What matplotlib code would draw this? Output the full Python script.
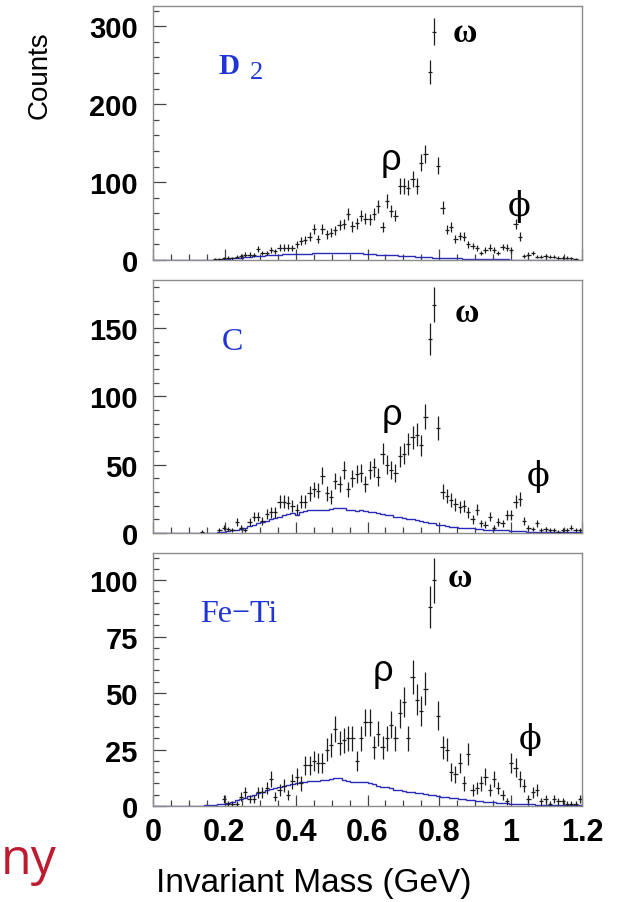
import numpy as np
import matplotlib
matplotlib.use("Agg")
import matplotlib.pyplot as plt
from matplotlib.ticker import MultipleLocator, FixedLocator, FixedFormatter

# ---------------- data (100 bins, 0 - 1.2 GeV) ----------------
x_min, x_max, n_bins = 0.0, 1.2, 100

d2_counts = [0, 0, 0, 0, 0, 0, 0, 0, 0, 0,
             0, 0, 0, 0, 1, 1, 2, 3, 2, 4,
             5, 7, 7, 6, 14, 9, 9, 13, 11, 16,
             16, 16, 15, 20, 24, 26, 30, 40, 27, 40,
             33, 35, 38, 45, 46, 59, 43, 47, 57, 53,
             52, 59, 69, 42, 76, 63, 57, 95, 95, 93,
             104, 95, 125, 136, 241, 293, 121, 67, 39, 42,
             27, 31, 30, 20, 18, 15, 9, 13, 16, 13,
             9, 17, 16, 13, 46, 30, 5, 7, 9, 4,
             4, 5, 4, 4, 3, 3, 3, 2, 1, 0]
d2_bg = [0, 0, 0, 0, 0, 0, 0, 0, 0, 0,
         0, 0, 0, 0, 0, 0.5, 1, 1.5, 2, 2.5,
         3, 3.5, 4, 4.5, 5, 5.5, 6, 6.5, 7, 7,
         7.5, 7.5, 7.5, 7.5, 7.5, 7.5, 8, 8.5, 8.5, 8.5,
         9, 9, 9, 9, 9.5, 9.5, 9, 8.5, 8.5, 8,
         8, 7.5, 7, 7, 6.5, 6, 6, 5.5, 5, 5,
         4.5, 4, 4, 3.5, 3.5, 3, 3, 2.5, 2.5, 2,
         2, 2, 1.5, 1.5, 1.5, 1, 1, 1, 1, 1,
         0.8, 0.8, 0.7, 0.6, 0.5, 0.5, 0.4, 0.3, 0.3, 0.2,
         0.2, 0.2, 0.1, 0.1, 0.1, 0.1, 0, 0, 0, 0]

c_counts = [0, 0, 0, 0, 0, 0, 0, 0, 0, 0,
            0, 1, 0, 0, 0, 2, 4, 3, 2, 8,
            4, 2, 8, 12, 12, 9, 14, 15, 15, 23,
            23, 22, 20, 17, 23, 23, 29, 32, 31, 42,
            29, 26, 38, 36, 46, 32, 40, 43, 44, 36,
            46, 48, 41, 58, 50, 46, 44, 56, 58, 65,
            70, 72, 64, 85, 142, 167, 77, 30, 27, 24,
            21, 19, 20, 15, 10, 17, 7, 6, 12, 4,
            8, 7, 13, 13, 23, 25, 9, 4, 3, 7,
            2, 3, 2, 2, 1, 2, 2, 4, 2, 2]
c_bg = [0, 0, 0, 0, 0, 0, 0, 0, 0, 0,
        0, 0, 0, 0, 0.3, 0.6, 1, 1.5, 2, 2.4,
        3, 4, 5, 6, 7, 8, 9, 10, 11, 12,
        13, 14, 14.5, 13.5, 15, 16, 16.5, 16.5, 16.5, 17,
        17, 17.5, 18.5, 18.5, 18, 17, 16.5, 16, 16.5, 16,
        15.5, 15, 14.5, 14, 13, 13, 12, 11.5, 11, 10.5,
        10, 9.5, 8.5, 8, 7.5, 7, 6, 5.5, 5, 4.5,
        4.5, 4, 4, 3.5, 3.5, 3, 3, 2.5, 2.5, 2.5,
        2, 2, 2, 1.5, 1.5, 1.5, 1.5, 1, 1, 1,
        1, 1, 0.8, 0.8, 0.7, 0.7, 0.6, 0.6, 0.5, 0.5]

feti_counts = [0, 0, 0, 0, 0, 0, 0, 0, 0, 0,
               0, 0, 0, 0, 0, 0, 3, 1, 1, 1,
               4, 6, 3, 3, 6, 6, 8, 12, 4, 7,
               9, 5, 11, 13, 10, 18, 18, 20, 19, 19,
               25, 27, 34, 28, 29, 30, 30, 20, 30, 37,
               37, 26, 32, 26, 30, 36, 30, 41, 46, 30,
               57, 47, 42, 52, 88, 100, 40, 26, 25, 15,
               14, 19, 10, 23, 7, 8, 10, 13, 7, 12,
               8, 5, 2, 19, 17, 12, 9, 3, 6, 7,
               2, 3, 1, 3, 2, 2, 1, 1, 1, 3]
feti_bg = [0, 0, 0, 0, 0, 0, 0, 0, 0, 0,
           0.1, 0.2, 0.3, 0.4, 0.5, 0.8, 1.1, 1.5, 1.9, 2.5,
           3, 3.6, 4.3, 5, 5.6, 6.3, 7, 7.5, 8, 8.5,
           8.8, 9.2, 9.6, 10.2, 10.6, 10.8, 10.9, 11, 11.2, 11.4,
           11.6, 11.9, 12.2, 12.2, 11.6, 10.9, 10.6, 10.5, 10.8, 10.7,
           10.1, 9.6, 9, 8.5, 8.2, 7.8, 7.3, 7, 6.7, 6.4,
           6.1, 5.9, 5.6, 5.3, 5, 4.8, 4.5, 4.2, 3.9, 3.7,
           3.5, 3.2, 3, 2.8, 2.5, 2.2, 2, 1.9, 1.8, 1.6,
           1.5, 1.4, 1.2, 1.1, 1, 0.9, 0.9, 0.8, 0.7, 0.6,
           0.5, 0.5, 0.4, 0.4, 0.4, 0.3, 0.3, 0.3, 0.3, 0.3]

panel_names = ["D", "C", "Fe\u2212Ti"]
y_limits = [326, 185, 112]
y_major = [100, 50, 25]
y_minor = [20, 10, 5]
x_ticks = [0, 0.2, 0.4, 0.6, 0.8, 1.0, 1.2]
x_tick_labels = ["0", "0.2", "0.4", "0.6", "0.8", "1", "1.2"]
greek_labels = ["\u03c9", "\u03c1", "\u03d5"]
# label anchor positions (x in GeV, y in counts) per panel: omega, rho, phi
greek_pos = [[(0.873, 292), (0.666, 129), (1.023, 70)],
             [(0.878, 161), (0.669, 87), (1.077, 42)],
             [(0.859, 101), (0.643, 60), (1.055, 30)]]

# ---------------- figure ----------------
fig = plt.figure(figsize=(6.2, 9.03), dpi=100)
W, H = 620.0, 903.0
ax_left = 153 / W
ax_width = (582 - 153) / W
panel_px = [(7, 261), (281, 534), (554, 807)]

edges = np.linspace(x_min, x_max, n_bins + 1)
centers = 0.5 * (edges[:-1] + edges[1:])
half_w = 0.5 * (edges[1] - edges[0])

blue = "#2a2ab8"
label_blue = "#1f35d6"
frame_grey = "#8c8c8c"

all_counts = [d2_counts, c_counts, feti_counts]
all_bg = [d2_bg, c_bg, feti_bg]

greek_family = [["Liberation Serif", "DejaVu Serif"],
                ["Liberation Sans", "DejaVu Sans"],
                ["DejaVu Serif"]]
greek_size = [24, 26, 24]
greek_weight = ["bold", "normal", "normal"]

axes = []
for i in range(3):
    top, bot = panel_px[i]
    ax = fig.add_axes([ax_left, (H - bot) / H, ax_width, (bot - top) / H])
    axes.append(ax)
    counts = np.array(all_counts[i], dtype=float)
    bg = np.array(all_bg[i], dtype=float)
    mask = counts > 0
    ax.stairs(bg, edges, color=blue, lw=1.0, zorder=2)
    ax.errorbar(centers[mask], counts[mask], xerr=half_w, yerr=np.sqrt(counts[mask]),
                fmt="none", ecolor="#1e1e1e", elinewidth=0.9, capsize=0, zorder=3)
    ax.set_xlim(x_min, x_max)
    ax.set_ylim(0, y_limits[i])
    for s in ax.spines.values():
        s.set_color(frame_grey)
        s.set_linewidth(1.0)
    ax.xaxis.set_major_locator(FixedLocator(x_ticks))
    ax.xaxis.set_minor_locator(MultipleLocator(0.05))
    ax.yaxis.set_major_locator(MultipleLocator(y_major[i]))
    ax.yaxis.set_minor_locator(MultipleLocator(y_minor[i]))
    ax.tick_params(axis="both", which="both", direction="in", top=False, right=False,
                   color="#444444", width=0.9)
    ax.tick_params(axis="y", which="major", length=9, pad=11, labelsize=21)
    ax.tick_params(axis="y", which="minor", length=4)
    ax.tick_params(axis="x", which="major", length=8, pad=8, labelsize=22)
    ax.tick_params(axis="x", which="minor", length=4)
    for lab in ax.get_yticklabels():
        lab.set_fontfamily("Liberation Sans")
        lab.set_fontweight("bold")
    if i < 2:
        ax.tick_params(axis="x", labelbottom=False)
    else:
        ax.xaxis.set_major_formatter(FixedFormatter(x_tick_labels))
        for lab in ax.get_xticklabels():
            lab.set_fontfamily("Liberation Sans")
            lab.set_fontweight("bold")
    for k, (g, (gx, gy)) in enumerate(zip(greek_labels, greek_pos[i])):
        ax.text(gx, gy, g, fontsize=greek_size[k], family=greek_family[k],
                weight=greek_weight[k], ha="center", va="center", color="black", zorder=4)

# nucleus labels
axes[0].text(0.182, 249, panel_names[0], fontsize=21, family="Liberation Serif", weight="bold",
             color=label_blue, ha="left", va="center")
axes[0].text(0.272, 241, "2", fontsize=19, family="Liberation Serif",
             color=label_blue, ha="left", va="center")
axes[1].text(0.192, 140, panel_names[1], fontsize=23, family="Liberation Serif",
             color=label_blue, ha="left", va="center")
axes[2].text(0.131, 85, panel_names[2], fontsize=23, family="Liberation Serif",
             color=label_blue, ha="left", va="center")

# axis titles
fig.text(40 / W, 1 - 75 / H, "Counts", rotation=90, fontsize=20, family="Liberation Sans",
         ha="center", va="center")
fig.text(314 / W, 1 - 884 / H, "Invariant Mass (GeV)", fontsize=24, family="Liberation Sans",
         ha="center", va="center")

# slide text fragment at the lower left
fig.text(1 / W, 1 - 874 / H, "ny", fontsize=36, family="Open Sans", color="#be1a30",
         ha="left", va="baseline")

fig.savefig("out.png", dpi=100)
